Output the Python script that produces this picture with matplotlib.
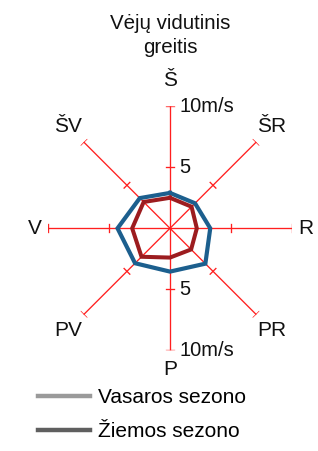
import numpy as np
import matplotlib
matplotlib.use("Agg")
import matplotlib.pyplot as plt
from matplotlib.lines import Line2D

plt.rcParams['font.family'] = ['Liberation Sans', 'DejaVu Sans']

# compass directions, clockwise from north
directions = ['Š', 'ŠR', 'R', 'PR', 'P', 'PV', 'V', 'ŠV']
angles_deg = [0, 45, 90, 135, 180, 225, 270, 315]

# average wind speed, m/s
blue_speed = [2.9, 2.9, 3.3, 4.1, 3.55, 4.05, 4.3, 3.5]
red_speed = [2.5, 2.5, 2.2, 2.45, 2.4, 3.3, 3.1, 3.05]

legend_labels = ['Vasaros sezono', 'Žiemos sezono']
legend_colors = ['#9a9a9a', '#5f5f5f']

r_max = 10
r_ticks = [5, 10]

fig = plt.figure(figsize=(3.18, 4.51), dpi=100)
ax = fig.add_axes([0.1509, 0.2233, 0.7673, 0.541], projection='polar')
ax.set_theta_zero_location('N')
ax.set_theta_direction(-1)
ax.set_ylim(0, r_max)
ax.grid(False)
ax.spines['polar'].set_visible(False)
ax.set_xticks([])
ax.set_yticks([])
ax.patch.set_alpha(0)

theta = np.deg2rad(angles_deg)
axis_red = '#ff1f1f'

# spokes with small perpendicular ticks
for t in theta:
    ax.plot([t, t], [0, r_max], color=axis_red, lw=0.95, zorder=1)
    for rt in r_ticks:
        half = 0.33 / rt
        ax.plot([t - half, t + half], [rt, rt], color=axis_red, lw=0.95, zorder=1)

th_closed = np.append(theta, theta[0])
ax.plot(th_closed, blue_speed + blue_speed[:1], color='#1c5f8e', lw=3.0,
        solid_joinstyle='miter', zorder=3)
ax.plot(th_closed, red_speed + red_speed[:1], color='#9c1c1f', lw=2.9,
        solid_joinstyle='miter', zorder=4)

# direction labels
label_r = {0: 12.1, 45: 11.8, 90: 11.1, 135: 11.8, 180: 11.6, 225: 11.8, 270: 11.1, 315: 11.8}
for name, a in zip(directions, angles_deg):
    ax.text(np.deg2rad(a), label_r[a], name, ha='center', va='center',
            fontsize=15, color='#111111', clip_on=False)

# speed labels on north and south spokes
tx = 0.8
for rt in r_ticks:
    txt = '10m/s' if rt == 10 else str(rt)
    for sign in (1, -1):
        y = sign * rt
        ax.text(np.arctan2(tx, y), np.hypot(tx, y), txt, ha='left', va='center',
                fontsize=14.5, color='#111111', clip_on=False)

fig.text(0.535, 0.949, 'Vėjų vidutinis', ha='center', va='center', fontsize=14.8, color='#111111')
fig.text(0.535, 0.895, 'greitis', ha='center', va='center', fontsize=14.8, color='#111111')

handles = [Line2D([0], [0], color=c, lw=3.2) for c in legend_colors]
fig.legend(handles, legend_labels, loc='upper left', bbox_to_anchor=(0.12, 0.14),
           frameon=False, fontsize=15, handlelength=2.5, handletextpad=0.35,
           labelspacing=0.72, borderpad=0, borderaxespad=0)

fig.savefig('out.png', dpi=100)
